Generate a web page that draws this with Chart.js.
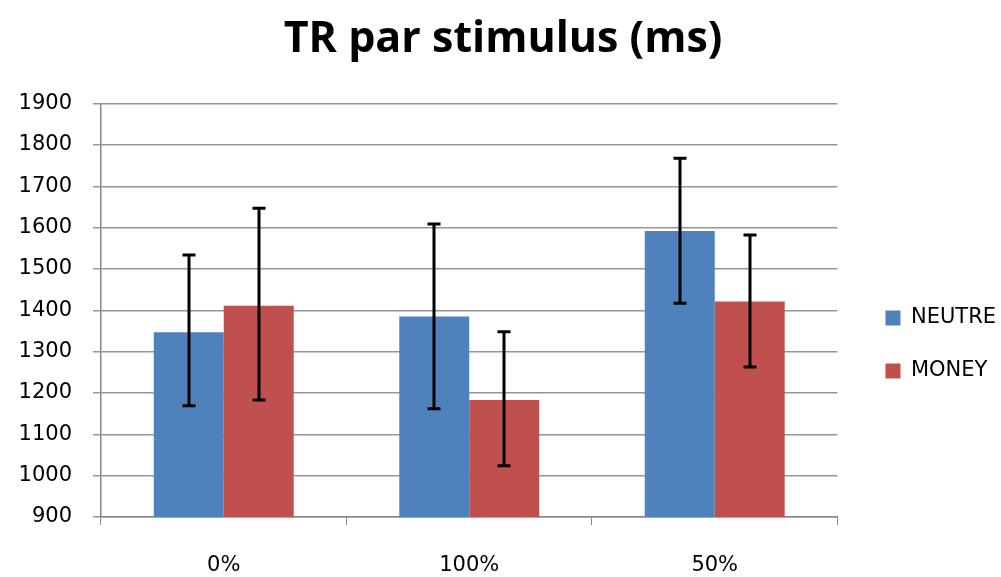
<!DOCTYPE html>
<html>
<head>
<meta charset="utf-8">
<script src="https://cdn.jsdelivr.net/npm/chart.js@4/dist/chart.umd.min.js"></script>
<style>
html,body{margin:0;padding:0;background:#fff;}
#wrap{width:1001px;height:577px;}
</style>
</head>
<body>
<div id="wrap"><canvas id="c" width="1001" height="577"></canvas></div>
<script>
const categories = ['0%', '100%', '50%'];
const neutreValues = [1347, 1385, 1592];
const neutreLow = [1169, 1162, 1417];
const neutreHigh = [1534, 1609, 1768];
const moneyValues = [1411, 1183, 1421];
const moneyLow = [1183, 1024, 1263];
const moneyHigh = [1647, 1348, 1582];
const yTicks = [900, 1000, 1100, 1200, 1300, 1400, 1500, 1600, 1700, 1800, 1900];

const errorBars = {
  id: 'errorBars',
  afterDatasetsDraw(chart) {
    const ctx = chart.ctx;
    const y = chart.scales.y;
    ctx.save();
    ctx.strokeStyle = '#000';
    ctx.lineWidth = 3;
    chart.data.datasets.forEach((ds, di) => {
      const meta = chart.getDatasetMeta(di);
      meta.data.forEach((bar, i) => {
        const x = Math.round(bar.x);
        const yl = y.getPixelForValue(ds.errLow[i]);
        const yh = y.getPixelForValue(ds.errHigh[i]);
        ctx.beginPath();
        ctx.moveTo(x, yl); ctx.lineTo(x, yh);
        ctx.moveTo(x - 6.5, yl); ctx.lineTo(x + 6.5, yl);
        ctx.moveTo(x - 6.5, yh); ctx.lineTo(x + 6.5, yh);
        ctx.stroke();
      });
    });
    ctx.restore();
  }
};

new Chart(document.getElementById('c'), {
  type: 'bar',
  data: {
    labels: categories,
    datasets: [
      { label: 'NEUTRE', data: neutreValues, errLow: neutreLow, errHigh: neutreHigh,
        backgroundColor: '#4F81BD', borderWidth: 0, categoryPercentage: 0.57, barPercentage: 1.0 },
      { label: 'MONEY', data: moneyValues, errLow: moneyLow, errHigh: moneyHigh,
        backgroundColor: '#C0504D', borderWidth: 0, categoryPercentage: 0.57, barPercentage: 1.0 }
    ]
  },
  options: {
    responsive: false,
    animation: false,
    layout: { padding: { left: 0, right: -5, top: 14, bottom: 0 } },
    plugins: {
      title: {
        display: true,
        text: 'TR par stimulus (ms)',
        color: '#000',
        font: { family: 'Open Sans', size: 43, weight: 'bold' },
        padding: { top: 0, bottom: 38 }
      },
      legend: {
        position: 'right',
        title: { display: true, text: ' ', font: { size: 10 }, padding: { top: 86, bottom: 0 } },
        labels: {
          color: '#000',
          font: { family: 'DejaVu Sans', size: 21 },
          boxWidth: 15, boxHeight: 15, padding: 32
        }
      },
      tooltip: { enabled: false }
    },
    scales: {
      x: {
        afterFit(s) { s.height = 60; },
        grid: { display: true, drawOnChartArea: false, drawTicks: true, tickLength: 8, color: '#888', offset: true },
        border: { color: '#888', width: 1.5 },
        ticks: { color: '#000', font: { family: 'DejaVu Sans', size: 21 }, padding: 28 }
      },
      y: {
        min: 900, max: 1900,
        afterFit(s) { s.width = 101; },
        afterBuildTicks(axis) { axis.ticks = yTicks.map(v => ({ value: v })); },
        grid: { color: '#969696', lineWidth: 1.5, tickLength: 8 },
        border: { color: '#888', width: 1.5 },
        ticks: { color: '#000', font: { family: 'DejaVu Sans', size: 21 }, padding: 21,
                 callback: v => String(v) }
      },
      spacer: {
        type: 'linear', position: 'right', display: true,
        afterFit(s) { s.width = 16; },
        grid: { display: false }, border: { display: false }, ticks: { display: false }
      }
    }
  },
  plugins: [errorBars]
});
</script>
</body>
</html>
